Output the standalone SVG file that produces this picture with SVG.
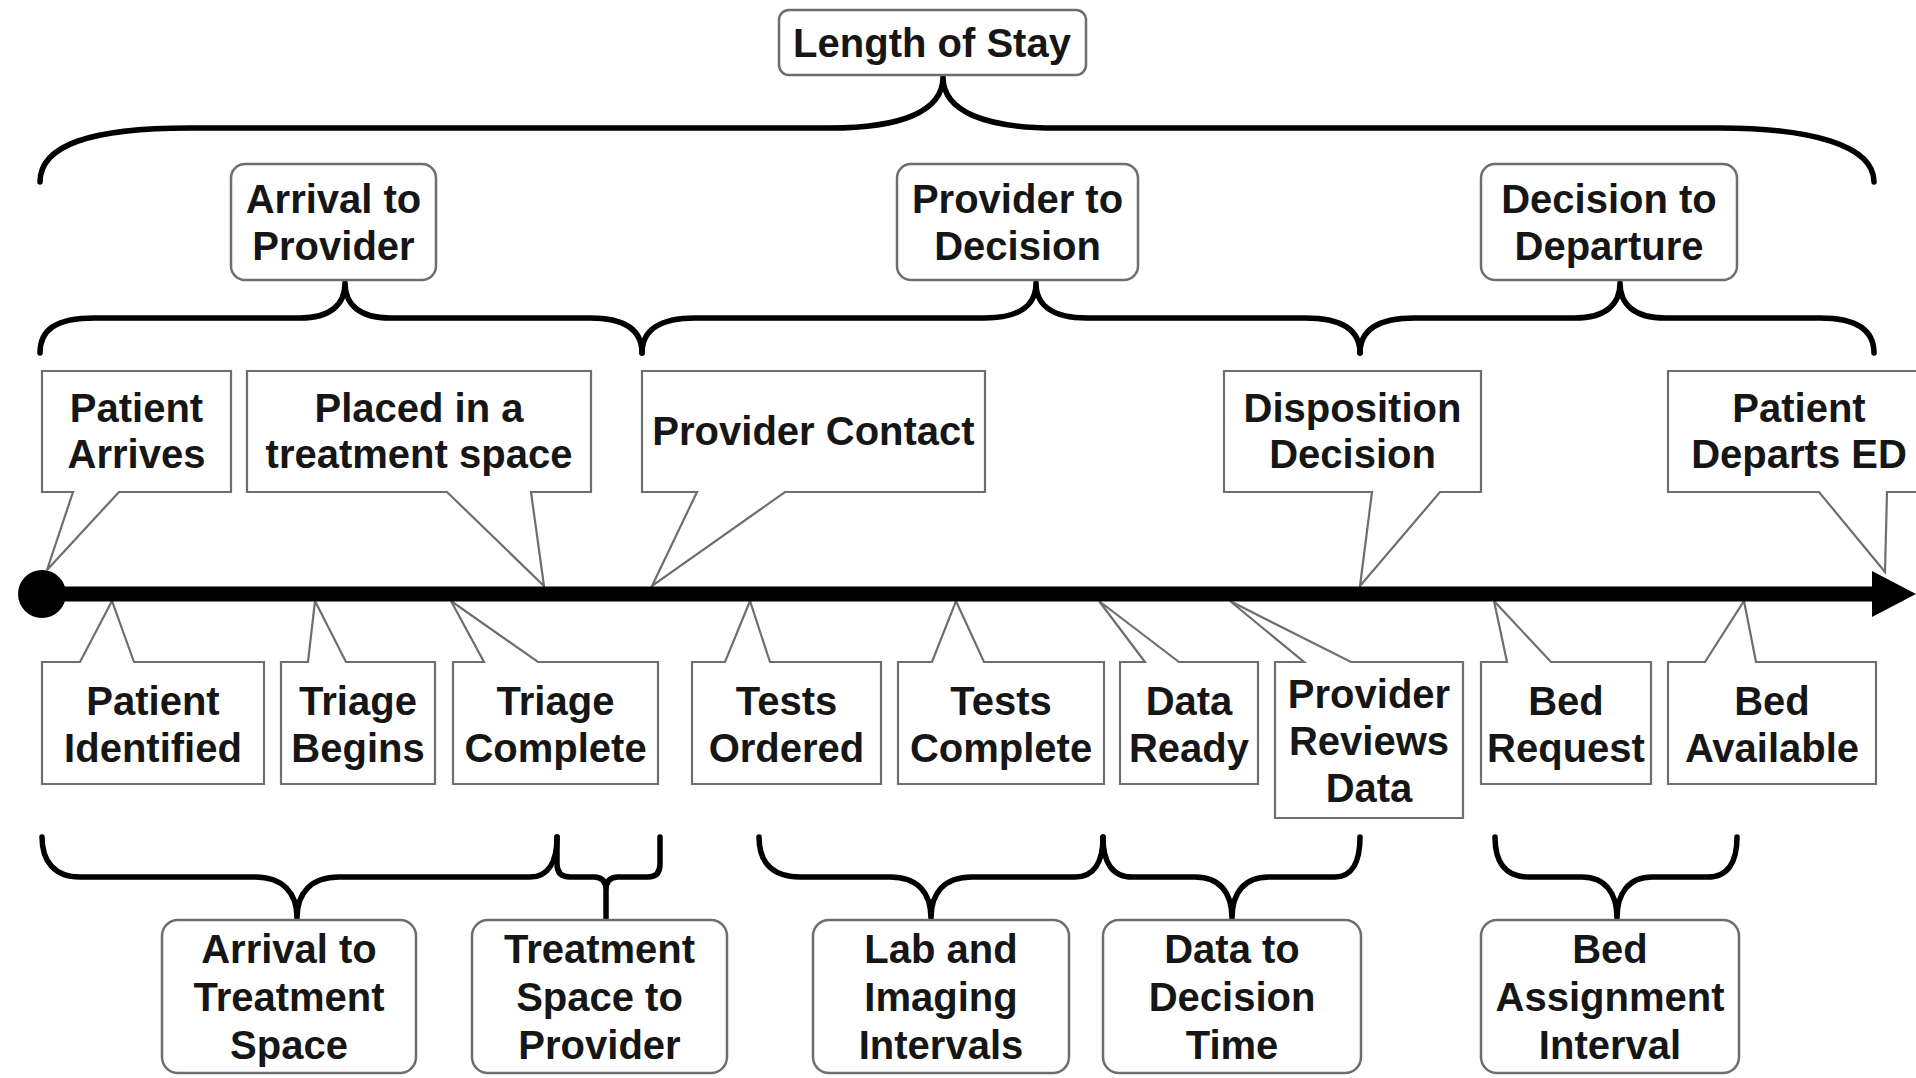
<svg xmlns="http://www.w3.org/2000/svg" width="1916" height="1078" viewBox="0 0 1916 1078">
<style>
.t{font-family:"Liberation Sans",Arial,sans-serif;font-weight:bold;font-size:40px;fill:#161616;text-anchor:middle}
.rb{fill:#fff;stroke:#6e6e6e;stroke-width:2.5}
.co{fill:#fff;stroke:#6e6e6e;stroke-width:2.2;stroke-linejoin:miter}
.br{fill:none;stroke:#000;stroke-width:5.5;stroke-linejoin:round;stroke-linecap:round}
</style>
<rect width="1916" height="1078" fill="#fff"/>

<g id="connectors">
  <!-- top brace: Length of Stay -->
  <path class="br" d="M40,182 C40,145 90,128 190,128 H830 C900,128 943,112 943,77 C943,112 986,128 1056,128 H1720 C1810,128 1874,145 1874,182"/>
  <!-- second level braces -->
  <path class="br" d="M40,353 C40,330 55,318 95,318 H300 C330,318 345,305 345,283 C345,305 360,318 390,318 H590 C625,318 642,330 642,353"/>
  <path class="br" d="M642,353 C642,330 660,318 695,318 H985 C1020,318 1036,305 1036,283 C1036,305 1052,318 1087,318 H1305 C1342,318 1360,330 1360,353"/>
  <path class="br" d="M1360,353 C1360,330 1378,318 1415,318 H1575 C1605,318 1620,305 1620,283 C1620,305 1635,318 1665,318 H1820 C1856,318 1874,330 1874,353"/>
  <!-- bottom braces -->
  <path class="br" d="M42,837 C42,862 55,877 80,877 H255 C283,877 297,893 297,918 C297,893 311,877 339,877 H530 C548,877 557,862 557,837"/>
  <path class="br" d="M557,837 V864 Q557,877 570,877 H594 Q606,877 606,890 V918 M606,890 Q606,877 618,877 H648 Q660,877 660,864 V837"/>
  <path class="br" d="M759,837 C759,862 772,877 800,877 H890 C918,877 931,893 931,918 C931,893 944,877 972,877 H1075 C1094,877 1103,862 1103,837"/>
  <path class="br" d="M1103,837 C1103,862 1112,877 1132,877 H1195 C1220,877 1232,893 1232,918 C1232,893 1244,877 1269,877 H1335 C1352,877 1360,862 1360,837"/>
  <path class="br" d="M1495,837 C1495,862 1505,877 1528,877 H1582 C1605,877 1617,893 1617,918 C1617,893 1629,877 1652,877 H1708 C1728,877 1737,862 1737,837"/>
</g>

<g id="length-of-stay"><rect class="rb" x="779" y="10" width="307" height="65" rx="10"/><text class="t" x="932" y="57">Length of Stay</text></g>

<g id="arrival-to-provider"><rect class="rb" x="231" y="164" width="205" height="116" rx="14"/><text class="t" x="333.5" y="213">Arrival to</text><text class="t" x="333.5" y="260">Provider</text></g>
<g id="provider-to-decision"><rect class="rb" x="897" y="164" width="241" height="116" rx="14"/><text class="t" x="1017.5" y="213">Provider to</text><text class="t" x="1017.5" y="260">Decision</text></g>
<g id="decision-to-departure"><rect class="rb" x="1481" y="164" width="256" height="116" rx="14"/><text class="t" x="1609" y="213">Decision to</text><text class="t" x="1609" y="260">Departure</text></g>

<!-- top callouts -->
<g id="patient-arrives"><path class="co" d="M42,371 H231 V492 H119 L47,570 L73,492 H42 Z"/><text class="t" x="136.5" y="422">Patient</text><text class="t" x="136.5" y="468">Arrives</text></g>
<g id="placed-in-treatment-space"><path class="co" d="M247,371 H591 V492 H531 L544,586 L447,492 H247 Z"/><text class="t" x="419" y="422">Placed in a</text><text class="t" x="419" y="468">treatment space</text></g>
<g id="provider-contact"><path class="co" d="M642,371 H985 V492 H785 L652,586 L697,492 H642 Z"/><text class="t" x="813.5" y="445">Provider Contact</text></g>
<g id="disposition-decision"><path class="co" d="M1224,371 H1481 V492 H1440 L1360,586 L1372,492 H1224 Z"/><text class="t" x="1352.5" y="422">Disposition</text><text class="t" x="1352.5" y="468">Decision</text></g>
<g id="patient-departs-ed"><path class="co" d="M1668,371 H1945 V492 H1887 L1885,572 L1819,492 H1668 Z"/><text class="t" x="1799" y="422">Patient</text><text class="t" x="1799" y="468">Departs ED</text></g>

<!-- bottom callouts -->
<g id="patient-identified"><path class="co" d="M42,662 H80 L112,601 L134,662 H264 V784 H42 Z"/><text class="t" x="153" y="715">Patient</text><text class="t" x="153" y="762">Identified</text></g>
<g id="triage-begins"><path class="co" d="M281,662 H308 L315,601 L346,662 H435 V784 H281 Z"/><text class="t" x="358" y="715">Triage</text><text class="t" x="358" y="762">Begins</text></g>
<g id="triage-complete"><path class="co" d="M453,662 H484 L451,601 L538,662 H658 V784 H453 Z"/><text class="t" x="555.5" y="715">Triage</text><text class="t" x="555.5" y="762">Complete</text></g>
<g id="tests-ordered"><path class="co" d="M692,662 H725 L750,601 L770,662 H881 V784 H692 Z"/><text class="t" x="786.5" y="715">Tests</text><text class="t" x="786.5" y="762">Ordered</text></g>
<g id="tests-complete"><path class="co" d="M898,662 H932 L956,601 L984,662 H1104 V784 H898 Z"/><text class="t" x="1001" y="715">Tests</text><text class="t" x="1001" y="762">Complete</text></g>
<g id="data-ready"><path class="co" d="M1120,662 H1145 L1099,601 L1179,662 H1258 V784 H1120 Z"/><text class="t" x="1189" y="715">Data</text><text class="t" x="1189" y="762">Ready</text></g>
<g id="provider-reviews-data"><path class="co" d="M1275,662 H1304 L1230,601 L1351,662 H1463 V818 H1275 Z"/><text class="t" x="1369" y="708">Provider</text><text class="t" x="1369" y="755">Reviews</text><text class="t" x="1369" y="802">Data</text></g>
<g id="bed-request"><path class="co" d="M1481,662 H1507 L1494,601 L1551,662 H1651 V784 H1481 Z"/><text class="t" x="1566" y="715">Bed</text><text class="t" x="1566" y="762">Request</text></g>
<g id="bed-available"><path class="co" d="M1668,662 H1705 L1744,601 L1756,662 H1876 V784 H1668 Z"/><text class="t" x="1772" y="715">Bed</text><text class="t" x="1772" y="762">Available</text></g>

<!-- timeline axis -->
<g id="timeline">
  <line x1="42" y1="594" x2="1876" y2="594" stroke="#000" stroke-width="15"/>
  <polygon points="1872,571 1916,594 1872,617" fill="#000"/>
  <circle cx="42" cy="594" r="24" fill="#000"/>
</g>

<!-- bottom interval boxes -->
<g id="arrival-to-treatment-space"><rect class="rb" x="162" y="920" width="254" height="153" rx="16"/><text class="t" x="289" y="963">Arrival to</text><text class="t" x="289" y="1011">Treatment</text><text class="t" x="289" y="1059">Space</text></g>
<g id="treatment-space-to-provider"><rect class="rb" x="472" y="920" width="255" height="153" rx="16"/><text class="t" x="599.5" y="963">Treatment</text><text class="t" x="599.5" y="1011">Space to</text><text class="t" x="599.5" y="1059">Provider</text></g>
<g id="lab-imaging-intervals"><rect class="rb" x="813" y="920" width="256" height="153" rx="16"/><text class="t" x="941" y="963">Lab and</text><text class="t" x="941" y="1011">Imaging</text><text class="t" x="941" y="1059">Intervals</text></g>
<g id="data-to-decision-time"><rect class="rb" x="1103" y="920" width="258" height="153" rx="16"/><text class="t" x="1232" y="963">Data to</text><text class="t" x="1232" y="1011">Decision</text><text class="t" x="1232" y="1059">Time</text></g>
<g id="bed-assignment-interval"><rect class="rb" x="1481" y="920" width="258" height="153" rx="16"/><text class="t" x="1610" y="963">Bed</text><text class="t" x="1610" y="1011">Assignment</text><text class="t" x="1610" y="1059">Interval</text></g>
</svg>
